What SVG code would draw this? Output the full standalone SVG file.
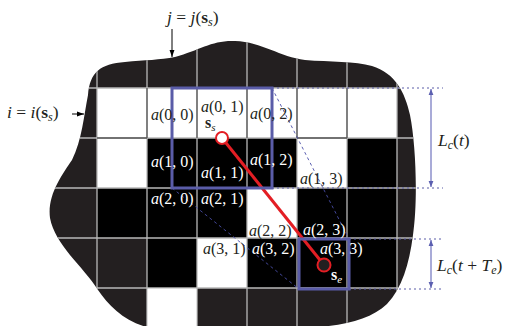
<svg xmlns="http://www.w3.org/2000/svg" width="506" height="326" viewBox="0 0 506 326">
<style>
.t{font-family:"Liberation Serif","Times New Roman",serif;font-size:16px}
.big{font-size:17.5px}
.w{fill:#ffffff}
.k{fill:#231f20}
.i{font-style:italic}
.b{font-weight:bold}
.sub{font-size:11px;font-style:italic}
.big .sub{font-size:12px}
.grid{stroke:#b8b8b8;stroke-width:1.3;fill:none}
.gridd{stroke:#555555;stroke-width:1.3;fill:none}
.dot{stroke:#5a5ca8;stroke-width:1;stroke-dasharray:2 3;fill:none}
.diag{stroke:#4a4ea8;stroke-width:0.9;stroke-dasharray:3 3;fill:none}
.box{stroke:#5a5ca8;stroke-width:3;fill:none}
.dim{stroke:#a9abd8;stroke-width:2;fill:none}
</style>
<defs>
<path id="blobp" d="M 88,95 C 90,72 100,64 125,62 C 145,60 160,60 175,57 C 200,50 212,40 235,41 C 262,42 280,57 305,60 C 330,62 355,61 372,66 C 395,73 405,92 410,115 C 416,145 418,200 413,235 C 409,265 402,288 387,304 C 372,318 350,324 320,327 L 320,340 L 147,340 L 147,327 C 125,322 108,305 98,290 C 83,266 55,245 50,218 C 47,195 62,175 72,160 C 82,140 84,115 88,95 Z"/>
<clipPath id="clip"><use href="#blobp"/></clipPath>
<marker id="ah" viewBox="0 0 10 10" refX="10" refY="5" markerWidth="6" markerHeight="6" orient="auto-start-reverse" markerUnits="userSpaceOnUse">
<path d="M0,1 L10,5 L0,9 Z" fill="#5b5fb0"/>
</marker>
<marker id="bk" viewBox="0 0 10 10" refX="10" refY="5" markerWidth="7" markerHeight="7" orient="auto" markerUnits="userSpaceOnUse">
<path d="M0,1.5 L10,5 L0,8.5 Z" fill="#000"/>
</marker>
</defs>

<g id="region">
<use href="#blobp" fill="#231f20"/>
<g clip-path="url(#clip)">
<g fill="#ffffff">
<rect x="97" y="88" width="300" height="50"/>
<rect x="97" y="138" width="50" height="50"/>
<rect x="297" y="138" width="50" height="50"/>
<rect x="247" y="188" width="50" height="50"/>
<rect x="197" y="238" width="50" height="50"/>
<rect x="147" y="288" width="50" height="50"/>
</g>
<g fill="#000000">
<rect x="147" y="138" width="150" height="50"/>
<rect x="347" y="138" width="50" height="50"/>
<rect x="97" y="188" width="150" height="50"/>
<rect x="297" y="188" width="100" height="50"/>
<rect x="147" y="238" width="50" height="50"/>
<rect x="247" y="238" width="150" height="50"/>
</g>
<path class="grid" d="M97,30V330 M147,30V330 M197,30V330 M247,30V330 M297,30V330 M347,30V330 M397,30V330 M40,88H420 M40,138H420 M40,188H420 M40,238H420 M40,288H420"/>
<path class="gridd" d="M147,88V138 M197,88V138 M247,88V138 M297,88V138 M347,88V138 M97,138H147 M297,138H347"/>
</g>
<rect x="147.7" y="288.7" width="48.6" height="40" fill="#ffffff"/>
</g>

<g id="connectors">
<path class="dot" d="M272,88H443 M272,188H443 M349,239H443 M349,289H443"/>
<path class="diag" d="M272,88L349,239 M172,188L299,289"/>
<line x1="222" y1="138" x2="324" y2="265" stroke="#e31e24" stroke-width="3"/>
<line class="dim" x1="431" y1="89" x2="431" y2="187" marker-start="url(#ah)" marker-end="url(#ah)"/>
<line class="dim" x1="431" y1="240" x2="431" y2="288" marker-start="url(#ah)" marker-end="url(#ah)"/>
<line x1="172" y1="29" x2="172" y2="57" stroke="#000" stroke-width="1" marker-end="url(#bk)"/>
<line x1="72" y1="114" x2="84" y2="114" stroke="#000" stroke-width="1" marker-end="url(#bk)"/>
</g>

<g id="box-t"><rect class="box" x="172" y="88" width="100" height="100"/></g>
<g id="box-e"><rect class="box" x="299" y="239" width="50" height="50"/></g>

<g id="ss"><circle cx="222" cy="138" r="6" fill="#ffffff" stroke="#e31e24" stroke-width="2"/></g>
<g id="se"><circle cx="324" cy="265" r="6.5" fill="#231f20" stroke="#e31e24" stroke-width="2"/></g>

<g id="labels">
<text class="t k" x="151" y="120"><tspan class="i">a</tspan>(0, 0)</text>
<text class="t k" x="201" y="112"><tspan class="i">a</tspan>(0, 1)</text>
<text class="t k" x="205" y="128"><tspan class="b">s</tspan><tspan class="sub" dy="3">s</tspan></text>
<text class="t k" x="250" y="119"><tspan class="i">a</tspan>(0, 2)</text>
<text class="t w" x="151" y="167"><tspan class="i">a</tspan>(1, 0)</text>
<text class="t w" x="201" y="178"><tspan class="i">a</tspan>(1, 1)</text>
<text class="t w" x="250" y="165"><tspan class="i">a</tspan>(1, 2)</text>
<text class="t k" x="300" y="184"><tspan class="i">a</tspan>(1, 3)</text>
<text class="t w" x="151" y="204"><tspan class="i">a</tspan>(2, 0)</text>
<text class="t w" x="201" y="204"><tspan class="i">a</tspan>(2, 1)</text>
<text class="t k" x="249" y="236"><tspan class="i">a</tspan>(2, 2)</text>
<text class="t w" x="303" y="235"><tspan class="i">a</tspan>(2, 3)</text>
<text class="t k" x="203" y="254"><tspan class="i">a</tspan>(3, 1)</text>
<text class="t w" x="252" y="254"><tspan class="i">a</tspan>(3, 2)</text>
<text class="t w" x="320" y="254"><tspan class="i">a</tspan>(3, 3)</text>
<text class="t w" x="331" y="280"><tspan class="b">s</tspan><tspan class="sub" dy="3">e</tspan></text>
<text class="t big k" x="167" y="23"><tspan class="i">j</tspan> = <tspan class="i">j</tspan>(<tspan class="b">s</tspan><tspan class="sub" dy="3">s</tspan><tspan dy="-3">)</tspan></text>
<text class="t big k" x="7" y="118"><tspan class="i">i</tspan> = <tspan class="i">i</tspan>(<tspan class="b">s</tspan><tspan class="sub" dy="3">s</tspan><tspan dy="-3">)</tspan></text>
<text class="t big k" x="438" y="146"><tspan class="i">L</tspan><tspan class="sub" dy="3">c</tspan><tspan dy="-3">(</tspan><tspan class="i">t</tspan>)</text>
<text class="t big k" x="437" y="271"><tspan class="i">L</tspan><tspan class="sub" dy="3">c</tspan><tspan dy="-3">(</tspan><tspan class="i">t</tspan> + <tspan class="i">T</tspan><tspan class="sub" dy="3">e</tspan><tspan dy="-3">)</tspan></text>
</g>
</svg>
